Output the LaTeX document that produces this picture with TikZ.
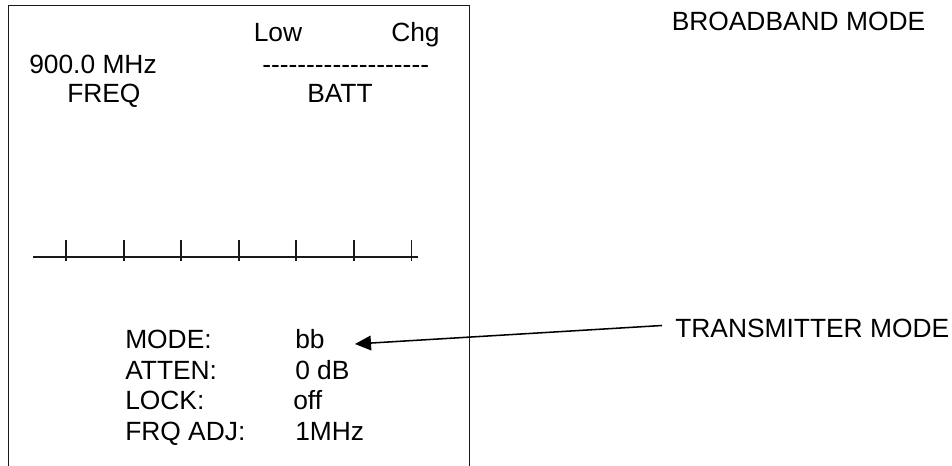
\documentclass[tikz,border=0pt]{standalone}
\usepackage{fontspec}
\newfontfamily\plainsans{Liberation Sans}
\usetikzlibrary{arrows.meta}
\tikzset{
  lbl/.style={inner sep=0pt,anchor=base west,font=\plainsans\fontsize{19.7bp}{23bp}\selectfont,text=black},
  frameline/.style={line width=1.3pt,draw=black!90},
  axisline/.style={line width=1.15pt,draw=black!90},
  pointer/.style={line width=1.15pt,draw=black,-{Triangle[length=12pt,width=11pt]}}
}
\begin{document}
\begin{tikzpicture}[x=0.75pt,y=-0.75pt]
\useasboundingbox (0,0) rectangle (952,466);
\fill[white] (0,0) rectangle (952,466);
\draw[frameline] (8.5,466) -- (8.5,5.5) -- (469.5,5.5) -- (469.5,466);
\draw[axisline] (33,257) -- (418,257);
\foreach \x in {66,124,181,239,296,354,411.5}{
  \draw[axisline] (\x,240) -- (\x,261);
}
\node[lbl] (low) at (253.5,42) {Low};
\node[lbl] (chg) at (391,42) {Chg};
\node[lbl] (freqval) at (29,74) {900.0 MHz};
\node[lbl] (dash) at (262,74) {-------------------};
\node[lbl] (freq) at (67,103) {FREQ};
\node[lbl] (batt) at (307,103) {BATT};
\node[lbl] (mode) at (125,349) {MODE:};
\node[lbl] (atten) at (125,379) {ATTEN:};
\node[lbl] (lock) at (125,409) {LOCK:};
\node[lbl] (frq) at (125,440) {FRQ ADJ:};
\node[lbl] (bb) at (295,349) {bb};
\node[lbl] (db) at (295,379) {0 dB};
\node[lbl] (off) at (293,409) {off};
\node[lbl] (mhz) at (295,440) {1MHz};
\node[lbl] (bbm) at (671.5,31) {BROADBAND MODE};
\node[lbl] (tm) at (675,337) {TRANSMITTER MODE};
\coordinate (tip) at (355,344);
\coordinate (tail) at (662,325.5);
\draw[pointer] (tail) -- (tip);
\end{tikzpicture}
\end{document}
